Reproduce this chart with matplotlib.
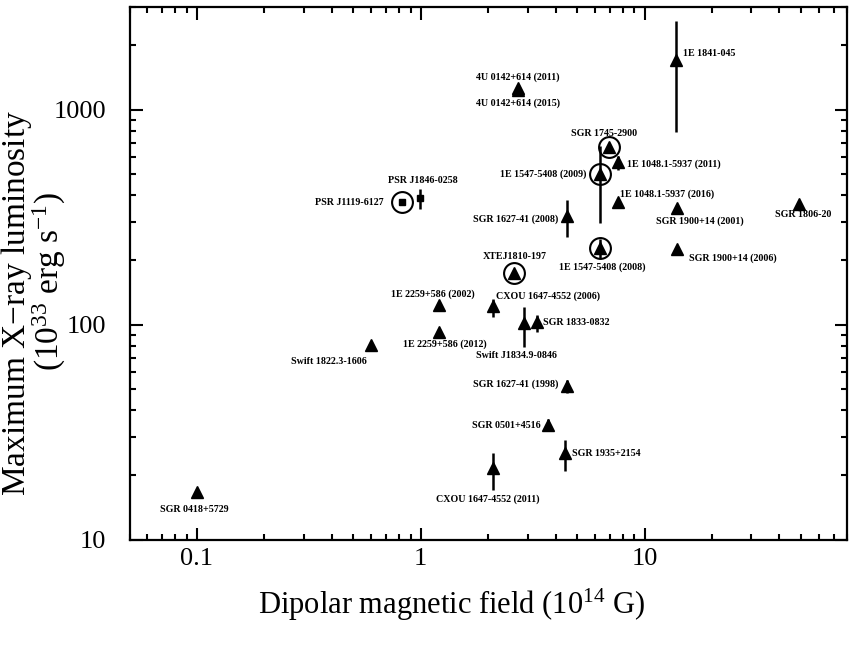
import numpy as np
import matplotlib
matplotlib.use("Agg")
import matplotlib.pyplot as plt
from matplotlib.ticker import FixedLocator, FixedFormatter, LogLocator, NullFormatter

plt.rcParams.update({
    'font.family': ['Liberation Serif', 'DejaVu Serif'],
    'mathtext.fontset': 'custom',
    'mathtext.rm': 'Liberation Serif',
    'mathtext.it': 'Liberation Serif:italic',
    'mathtext.bf': 'Liberation Serif:bold',
})

# source names, dipolar field (1e14 G), max luminosity (1e33 erg/s)
names = ["SGR 0418+5729", "Swift 1822.3-1606", "1E 2259+586 (2012)", "1E 2259+586 (2002)",
         "CXOU 1647-4552 (2006)", "SGR 1833-0832", "Swift J1834.9-0846", "SGR 1627-41 (1998)",
         "SGR 0501+4516", "SGR 1935+2154", "CXOU 1647-4552 (2011)", "SGR 1627-41 (2008)",
         "1E 1547-5408 (2009)", "SGR 1745-2900", "1E 1048.1-5937 (2011)", "1E 1048.1-5937 (2016)",
         "1E 1547-5408 (2008)", "SGR 1900+14 (2001)", "SGR 1900+14 (2006)", "SGR 1806-20",
         "1E 1841-045", "4U 0142+614 (2011)", "4U 0142+614 (2015)", "XTEJ1810-197",
         "PSR J1119-6127", "PSR J1846-0258"]
B = [0.10, 0.60, 1.21, 1.21,
     2.10, 3.30, 2.90, 4.49,
     3.70, 4.40, 2.10, 4.49,
     6.35, 6.90, 7.58, 7.58,
     6.35, 14.0, 14.0, 48.9,
     13.8, 2.71, 2.71, 2.60,
     0.823, 0.987]
L = [16.6, 80.8, 93, 124,
     122, 103, 102, 52,
     34.3, 25.2, 21.5, 320,
     502, 670, 571, 372,
     228, 349, 225, 364,
     1700, 1265, 1230, 174,
     372, 388]
L_lo = [None, None, None, None,
        109, 93, 79, 48,
        32, 20.8, 17.0, 256,
        297, None, 525, None,
        205, None, None, None,
        786, None, None, None,
        None, 345]
L_hi = [None, None, None, None,
        132, 111, 121, 55.5,
        36.5, 29.2, 25.2, 380,
        680, None, 609, None,
        251, None, None, None,
        2580, None, None, None,
        None, 428]
marker = ['^'] * 24 + ['s', 's']
circled = ["1E 1547-5408 (2009)", "SGR 1745-2900", "1E 1547-5408 (2008)",
           "XTEJ1810-197", "PSR J1119-6127"]

# label offsets in pixels (dx, dy) and horizontal alignment
label_pos = {
    "SGR 0418+5729": (-3, -17, 'center'),
    "Swift 1822.3-1606": (-42, -17, 'center'),
    "1E 2259+586 (2012)": (6, -13, 'center'),
    "1E 2259+586 (2002)": (-6, 10, 'center'),
    "CXOU 1647-4552 (2006)": (55, 10, 'center'),
    "SGR 1833-0832": (6, -1, 'left'),
    "Swift J1834.9-0846": (-8, -33, 'center'),
    "SGR 1627-41 (1998)": (-8, 2, 'right'),
    "SGR 0501+4516": (-7, -1, 'right'),
    "SGR 1935+2154": (7, 0, 'left'),
    "CXOU 1647-4552 (2011)": (-5, -31, 'center'),
    "SGR 1627-41 (2008)": (-8, -3, 'right'),
    "1E 1547-5408 (2009)": (-14, 0, 'right'),
    "SGR 1745-2900": (-4, 14, 'center'),
    "1E 1048.1-5937 (2011)": (9, -2, 'left'),
    "1E 1048.1-5937 (2016)": (2, 8, 'left'),
    "1E 1547-5408 (2008)": (2, -19, 'center'),
    "SGR 1900+14 (2001)": (23, -13, 'center'),
    "SGR 1900+14 (2006)": (12, -9, 'left'),
    "SGR 1806-20": (4, -10, 'center'),
    "1E 1841-045": (7, 7, 'left'),
    "4U 0142+614 (2011)": (0, 11, 'center'),
    "4U 0142+614 (2015)": (0, -13, 'center'),
    "XTEJ1810-197": (1, 17, 'center'),
    "PSR J1119-6127": (-18, 0, 'right'),
    "PSR J1846-0258": (3, 18, 'center'),
}

fig = plt.figure(figsize=(8.64, 6.48), dpi=100)
ax = fig.add_axes([0.150, 0.167, 0.830, 0.822])
ax.set_xscale('log')
ax.set_yscale('log')

for i, name in enumerate(names):
    if L_lo[i] is not None:
        ax.plot([B[i], B[i]], [L_lo[i], L_hi[i]], color='black', lw=1.8,
                solid_capstyle='butt', zorder=2)
    ms = 8 if marker[i] == '^' else 5
    ax.plot(B[i], L[i], marker=marker[i], ms=ms, color='black', ls='none', zorder=3)
    if name in circled:
        ax.plot(B[i], L[i], marker='o', ms=15, mfc='none', mec='black', mew=1.5,
                ls='none', zorder=3)
    dx, dy, ha = label_pos[name]
    ax.annotate(name, (B[i], L[i]), xytext=(dx, dy), textcoords='offset pixels',
                ha=ha, va='center', fontsize=7.2, fontweight='bold')

ax.set_xlim(0.05, 80)
ax.set_ylim(10, 3000)

ax.xaxis.set_major_locator(FixedLocator([0.1, 1, 10]))
ax.xaxis.set_major_formatter(FixedFormatter(['0.1', '1', '10']))
ax.yaxis.set_major_locator(FixedLocator([10, 100, 1000]))
ax.yaxis.set_major_formatter(FixedFormatter(['10', '100', '1000']))
ax.xaxis.set_minor_locator(LogLocator(base=10, subs=np.arange(2, 10)))
ax.yaxis.set_minor_locator(LogLocator(base=10, subs=np.arange(2, 10)))
ax.xaxis.set_minor_formatter(NullFormatter())
ax.yaxis.set_minor_formatter(NullFormatter())

ax.tick_params(which='both', direction='in', top=True, right=True, width=1.5)
ax.tick_params(which='major', length=9)
ax.tick_params(which='minor', length=4.5)
ax.tick_params(axis='x', which='major', labelsize=19, pad=6)
ax.tick_params(axis='y', which='major', labelsize=19, pad=17)
for sp in ax.spines.values():
    sp.set_linewidth(1.6)

ax.set_xlabel('Dipolar magnetic field (10$^{14}$ G)', fontsize=22)
ax.xaxis.set_label_coords(0.449, -0.088)

# y label: two lines placed separately (they are not centred on each other)
fig.text(25 / 864, 1 - 303 / 648, 'Maximum X$-$ray luminosity', fontsize=24,
         rotation=90, rotation_mode='anchor', ha='center', va='baseline')
fig.text(59 / 864, 1 - 282 / 648, '(10$^{33}$ erg s$^{-1}$)', fontsize=24,
         rotation=90, rotation_mode='anchor', ha='center', va='baseline')

fig.savefig('out.png', dpi=100)
